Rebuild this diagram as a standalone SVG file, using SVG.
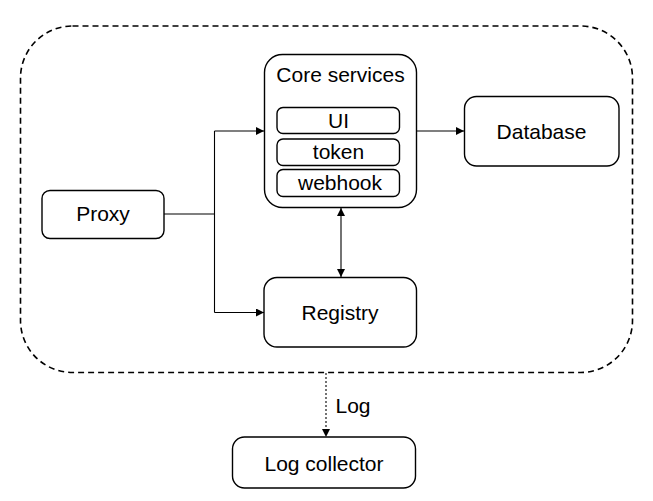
<svg xmlns="http://www.w3.org/2000/svg" width="653" height="501" viewBox="0 0 653 501">
<style>
.box{fill:#fff;stroke:#000;stroke-width:1.4}
.t{font-family:"Liberation Sans",Arial,sans-serif;font-size:21px;fill:#000;text-anchor:middle}
.c{fill:none;stroke:#000;stroke-width:1.1}
</style>
<defs>
<marker id="ah" viewBox="0 0 10 10" refX="10" refY="5" markerWidth="8" markerHeight="8" markerUnits="userSpaceOnUse" orient="auto-start-reverse">
<path d="M0,0 L10,5 L0,10 z" fill="#000"/>
</marker>
</defs>
<rect id="boundary" x="20.5" y="26" width="612" height="346.5" rx="52" ry="52" fill="none" stroke="#000" stroke-width="1.6" stroke-dasharray="6,4"/>
<g id="connectors">
<polyline class="c" points="164,214 214.5,214"/>
<polyline class="c" points="214.5,131 214.5,312.5"/>
<line class="c" x1="214.5" y1="131" x2="264" y2="131" marker-end="url(#ah)"/>
<line class="c" x1="214.5" y1="312.5" x2="264" y2="312.5" marker-end="url(#ah)"/>
<line class="c" x1="416.5" y1="131" x2="464" y2="131" marker-end="url(#ah)"/>
<line class="c" x1="341" y1="208" x2="341" y2="277" marker-start="url(#ah)" marker-end="url(#ah)"/>
<line class="c" x1="326" y1="373" x2="326" y2="437" stroke-dasharray="2,2" marker-end="url(#ah)"/>
<text class="t" x="353" y="413">Log</text>
</g>
<g id="core">
<rect class="box" x="264.5" y="54.5" width="152" height="153" rx="18"/>
<text class="t" x="340.5" y="82">Core services</text>
</g>
<g id="ui">
<rect class="box" x="277" y="107.5" width="122.5" height="26" rx="6"/>
<text class="t" x="338.5" y="127.5">UI</text>
</g>
<g id="token">
<rect class="box" x="277" y="139" width="122.5" height="26.5" rx="6"/>
<text class="t" x="338.5" y="159">token</text>
</g>
<g id="webhook">
<rect class="box" x="277" y="169.5" width="122.5" height="27" rx="6"/>
<text class="t" x="340" y="189.5">webhook</text>
</g>
<g id="database">
<rect class="box" x="464.5" y="96.5" width="154.5" height="69.5" rx="12"/>
<text class="t" x="541.5" y="138.5">Database</text>
</g>
<g id="proxy">
<rect class="box" x="42" y="190.5" width="122" height="48" rx="8"/>
<text class="t" x="103" y="221">Proxy</text>
</g>
<g id="registry">
<rect class="box" x="264" y="277.5" width="152.5" height="69.5" rx="13"/>
<text class="t" x="340" y="319.5">Registry</text>
</g>
<g id="logcollector">
<rect class="box" x="232.5" y="437" width="183" height="51" rx="12"/>
<text class="t" x="324" y="471">Log collector</text>
</g>
</svg>
